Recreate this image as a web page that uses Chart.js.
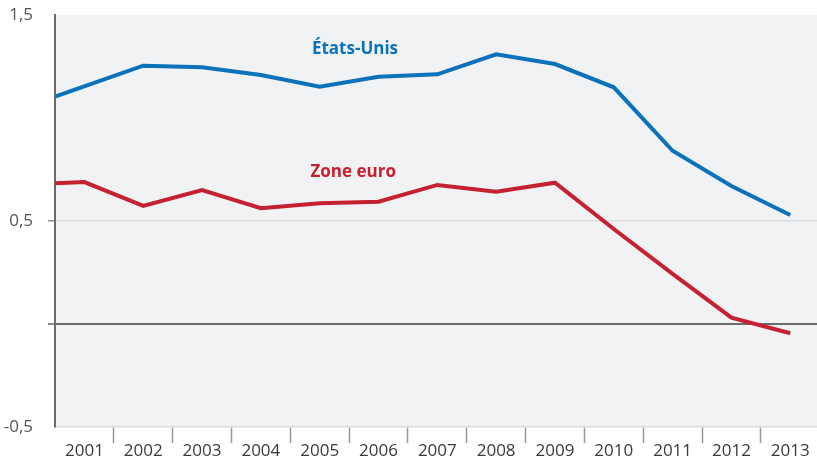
<!DOCTYPE html>
<html>
<head>
<meta charset="utf-8">
<script src="https://cdn.jsdelivr.net/npm/chart.js@4/dist/chart.umd.min.js"></script>
<style>
html,body{margin:0;padding:0;background:#fff;}
#wrap{width:817px;height:460px;position:relative;}
</style>
</head>
<body>
<div id="wrap"><canvas id="c" width="817" height="460"></canvas></div>
<script>
// ---- data ----
const usYears = [2000.5, 2002, 2003, 2004, 2005, 2006, 2007, 2008, 2009, 2010, 2011, 2012, 2013];
const usValues = [1.104, 1.254, 1.246, 1.209, 1.152, 1.200, 1.212, 1.309, 1.262, 1.149, 0.841, 0.670, 0.529];
const ezYears = [2000.5, 2001, 2002, 2003, 2004, 2005, 2006, 2007, 2008, 2009, 2010, 2011, 2012, 2013];
const ezValues = [0.683, 0.689, 0.573, 0.650, 0.562, 0.586, 0.594, 0.675, 0.642, 0.686, 0.461, 0.243, 0.031, -0.045];
const categories = ['2001','2002','2003','2004','2005','2006','2007','2008','2009','2010','2011','2012','2013'];
const yTickValues = [-0.5, 0, 0.5, 1.5];
const yTickLabels = ['-0,5', '', '0,5', '1,5'];
const seriesNames = ['États-Unis', 'Zone euro'];
const seriesLabelPos = [[2005.6, 1.335], [2005.57, 0.739]];

const BLUE = '#0a72ba';
const RED = '#c52130';

const bgPlugin = {
  id: 'bg',
  beforeDraw(chart) {
    const a = chart.chartArea, ctx = chart.ctx;
    ctx.save();
    ctx.fillStyle = '#f1f2f4';
    ctx.fillRect(a.left, a.top, a.right - a.left, a.bottom - a.top);
    ctx.restore();
  }
};
const labelPlugin = {
  id: 'seriesLabels',
  afterDatasetsDraw(chart) {
    const ctx = chart.ctx, xs = chart.scales.x, ys = chart.scales.y;
    const cols = [BLUE, RED];
    ctx.save();
    ctx.font = 'bold 17px "Open Sans"';
    ctx.textAlign = 'center';
    ctx.textBaseline = 'middle';
    seriesNames.forEach((n, i) => {
      ctx.fillStyle = cols[i];
      ctx.fillText(n, xs.getPixelForValue(seriesLabelPos[i][0]), ys.getPixelForValue(seriesLabelPos[i][1]));
    });
    ctx.restore();
  }
};

const xTicks = [];
categories.forEach((c, i) => {
  xTicks.push({value: +c, label: c});
  if (i < categories.length - 1) xTicks.push({value: +c + 0.5, label: ''});
});

new Chart(document.getElementById('c'), {
  type: 'line',
  data: {
    datasets: [
      {label: seriesNames[0], data: usYears.map((x, i) => ({x, y: usValues[i]})), borderColor: BLUE, borderWidth: 4, pointRadius: 0, tension: 0, fill: false},
      {label: seriesNames[1], data: ezYears.map((x, i) => ({x, y: ezValues[i]})), borderColor: RED, borderWidth: 4, pointRadius: 0, tension: 0, fill: false}
    ]
  },
  options: {
    responsive: false,
    animation: false,
    layout: {padding: {top: 15, right: 0, left: 0, bottom: 0}},
    plugins: {legend: {display: false}, tooltip: {enabled: false}},
    scales: {
      x: {
        type: 'linear',
        min: 2000.5,
        max: 2013.455,
        afterBuildTicks(s) { s.ticks = xTicks.map(t => ({value: t.value})); },
        afterFit(s) { s.height = 33; s.paddingLeft = 0; s.paddingRight = 0; },
        ticks: {
          autoSkip: false,
          maxRotation: 0,
          padding: -2,
          color: '#3a3a3a',
          font: {family: 'Open Sans', size: 17},
          callback(v) { const t = xTicks.find(t => t.value === v); return t ? t.label : ''; }
        },
        grid: {
          drawOnChartArea: false,
          tickLength: 16,
          tickColor: (ctx) => (ctx.tick && ctx.tick.value % 1 !== 0) ? '#999' : 'rgba(0,0,0,0)',
          tickWidth: 1.5
        },
        border: {color: '#dcdcdc', width: 1.5}
      },
      y: {
        type: 'linear',
        min: -0.5,
        max: 1.5,
        afterBuildTicks(s) { s.ticks = yTickValues.map(v => ({value: v})); },
        afterFit(s) { s.width = 55; s.paddingTop = 0; s.paddingBottom = 0; },
        ticks: {
          padding: 15,
          color: '#555',
          font: {family: 'Open Sans', size: 17},
          callback(v) { const i = yTickValues.indexOf(v); return i >= 0 ? yTickLabels[i] : ''; }
        },
        grid: {
          tickLength: 7,
          color: (ctx) => {
            const v = ctx.tick && ctx.tick.value;
            if (v === 0) return '#6b6b6b';
            if (v === 0.5) return '#dcdcdc';
            return 'rgba(0,0,0,0)';
          },
          lineWidth: (ctx) => (ctx.tick && ctx.tick.value === 0) ? 2 : 1.5,
          tickColor: (ctx) => {
            const v = ctx.tick && ctx.tick.value;
            return (v === 0 || v === 0.5) ? '#8a8a8a' : 'rgba(0,0,0,0)';
          }
        },
        border: {color: '#6b6b6b', width: 2}
      }
    }
  },
  plugins: [bgPlugin, labelPlugin]
});
</script>
</body>
</html>
